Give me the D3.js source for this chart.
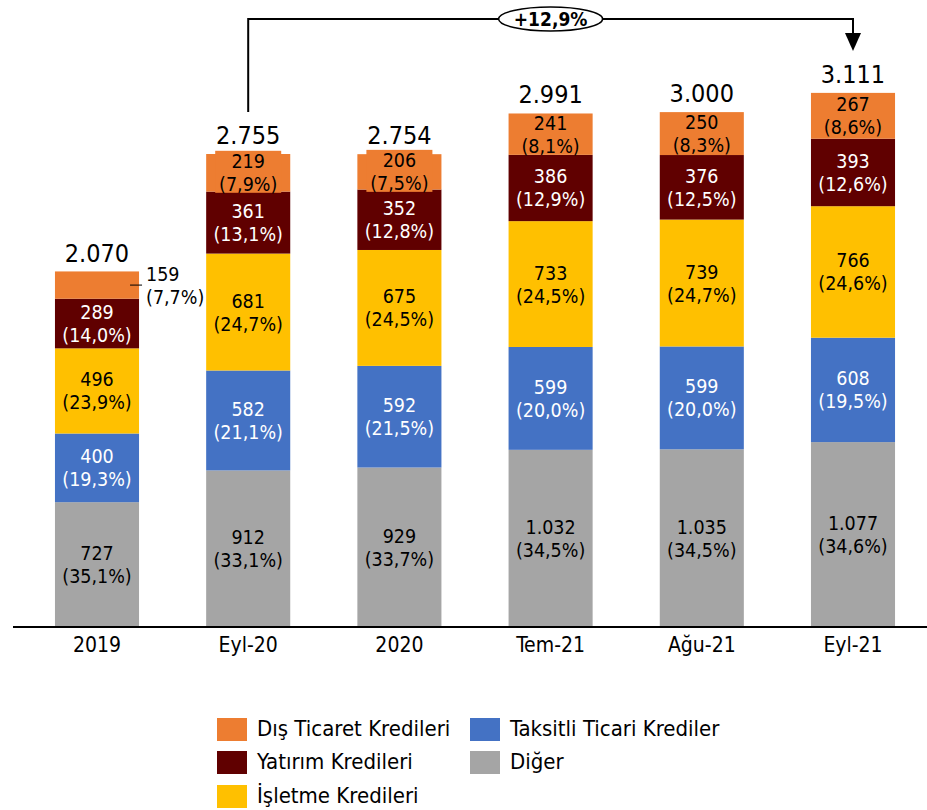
<!DOCTYPE html>
<html>
<head>
<meta charset="utf-8">
<script src="https://cdn.jsdelivr.net/npm/d3@7/dist/d3.min.js"></script>
<style>
  body { margin: 0; background: #fff; }
  text { font-family: "DejaVu Sans Condensed", "DejaVu Sans", sans-serif; }
</style>
</head>
<body>
<script>
// Data
var categories = ["2019", "Eyl-20", "2020", "Tem-21", "Ağu-21", "Eyl-21"];
var seriesNames = ["Diğer", "Taksitli Ticari Krediler", "İşletme Kredileri", "Yatırım Kredileri", "Dış Ticaret Kredileri"];
var diger     = [727, 912, 929, 1032, 1035, 1077];
var taksitli  = [400, 582, 592, 599, 599, 608];
var isletme   = [496, 681, 675, 733, 739, 766];
var yatirim   = [289, 361, 352, 386, 376, 393];
var disTicaret = [159, 219, 206, 241, 250, 267];
var totals    = [2070, 2755, 2754, 2991, 3000, 3111];

var pctDiger    = ["35,1", "33,1", "33,7", "34,5", "34,5", "34,6"];
var pctTaksitli = ["19,3", "21,1", "21,5", "20,0", "20,0", "19,5"];
var pctIsletme  = ["23,9", "24,7", "24,5", "24,5", "24,7", "24,6"];
var pctYatirim  = ["14,0", "13,1", "12,8", "12,9", "12,5", "12,6"];
var pctDis      = ["7,7", "7,9", "7,5", "8,1", "8,3", "8,6"];

var growthLabel = "+12,9%";

//Size
var w = 927, h = 810;
var baseY = 627;

var colors = ["#a5a5a5", "#4472c4", "#ffc000", "#600000", "#ed7d31"];
var textColors = ["#000", "#fff", "#000", "#fff", "#000"];

var values = [diger, taksitli, isletme, yatirim, disTicaret];
var pcts = [pctDiger, pctTaksitli, pctIsletme, pctYatirim, pctDis];

var tr = d3.formatLocale({decimal: ",", thousands: ".", grouping: [3], currency: ["", ""]});
var fmt = tr.format(",d");

var svg = d3.select("body").append("svg")
  .attr("width", w)
  .attr("height", h);

//Scales
var x = d3.scaleBand()
  .domain(categories)
  .range([21.4, 928.6])
  .paddingInner(0.444)
  .paddingOuter(0.222);

var y = d3.scaleLinear()
  .domain([0, 3652])
  .range([baseY, 0]);

//Stack rows
var rows = categories.map(function(c, i) {
  var r = {cat: c};
  seriesNames.forEach(function(s, k) { r[s] = values[k][i]; });
  return r;
});
var stacked = d3.stack().keys(seriesNames)(rows);

var bw = x.bandwidth();

var layers = svg.selectAll("g.layer")
  .data(stacked)
  .enter().append("g")
  .attr("class", "layer")
  .attr("fill", function(d, k) { return colors[k]; });

layers.selectAll("rect")
  .data(function(d) { return d; })
  .enter().append("rect")
  .attr("x", function(d) { return x(d.data.cat); })
  .attr("y", function(d) { return y(d[1]); })
  .attr("width", bw)
  .attr("height", function(d) { return y(d[0]) - y(d[1]); });

//Segment labels
stacked.forEach(function(layer, k) {
  layer.forEach(function(d, i) {
    var cx = x(d.data.cat) + bw / 2;
    var cy = (y(d[0]) + y(d[1])) / 2;
    var segH = y(d[0]) - y(d[1]);
    var v = values[k][i];
    var outside = segH < 30;
    var g = svg.append("g");
    if (outside) {
      // label next to the bar with a short leader line
      var lx = x(d.data.cat) + bw;
      g.append("line")
        .attr("x1", lx - 9).attr("x2", lx + 3)
        .attr("y1", cy).attr("y2", cy)
        .attr("stroke", "#000").attr("stroke-width", 1);
      g.append("text").attr("x", lx + 7).attr("y", cy - 4.5)
        .style("font-size", "19.5px").attr("fill", "#000").text(fmt(v));
      g.append("text").attr("x", lx + 7).attr("y", cy + 18.5)
        .style("font-size", "19.5px").attr("fill", "#000").text("(" + pcts[k][i] + "%)");
      return;
    }
    if (segH < 39) {
      // label box a bit taller than the thin segment
      g.append("rect")
        .attr("x", cx - 33).attr("width", 66)
        .attr("y", cy - 22).attr("height", 42)
        .attr("fill", colors[k]);
    }
    g.append("text").attr("x", cx).attr("y", cy - 4.5)
      .attr("text-anchor", "middle")
      .style("font-size", "19.5px").attr("fill", textColors[k]).text(fmt(v));
    g.append("text").attr("x", cx).attr("y", cy + 18.5)
      .attr("text-anchor", "middle")
      .style("font-size", "19.5px").attr("fill", textColors[k]).text("(" + pcts[k][i] + "%)");
  });
});

//Totals
svg.selectAll("text.total")
  .data(categories)
  .enter().append("text")
  .attr("class", "total")
  .attr("x", function(d) { return x(d) + bw / 2; })
  .attr("y", function(d, i) { return y(totals[i]) - 10; })
  .attr("text-anchor", "middle")
  .style("font-size", "25px")
  .text(function(d, i) { return fmt(totals[i]); });

//Axis
svg.append("line")
  .attr("x1", 13).attr("x2", w)
  .attr("y1", baseY).attr("y2", baseY)
  .attr("stroke", "#000").attr("stroke-width", 2);

svg.selectAll("text.cat")
  .data(categories)
  .enter().append("text")
  .attr("class", "cat")
  .attr("x", function(d) { return x(d) + bw / 2; })
  .attr("y", 652)
  .attr("text-anchor", "middle")
  .style("font-size", "21px")
  .text(function(d) { return d; });

//Growth arrow
var x1 = x("Eyl-20") + bw / 2, x2 = x("Eyl-21") + bw / 2;
var y1 = y(totals[1]) - 42, y2 = y(totals[5]) - 42;
var topY = 19;
svg.append("path")
  .attr("d", "M" + x1 + "," + y1 + "V" + topY + "H" + x2 + "V" + (y2 - 17))
  .attr("fill", "none").attr("stroke", "#000").attr("stroke-width", 2);
svg.append("path")
  .attr("d", "M" + (x2 - 8) + "," + (y2 - 18) + "L" + (x2 + 8) + "," + (y2 - 18) + "L" + x2 + "," + y2 + "Z")
  .attr("fill", "#000");

var midX = (x1 + x2) / 2;
svg.append("ellipse")
  .attr("cx", midX).attr("cy", topY)
  .attr("rx", 52).attr("ry", 12)
  .attr("fill", "#fff").attr("stroke", "#000").attr("stroke-width", 1.5);
svg.append("text")
  .attr("x", midX).attr("y", topY + 7)
  .attr("text-anchor", "middle")
  .style("font-size", "19px").style("font-weight", "bold")
  .text(growthLabel);

//Legend
var legendOrder = [4, 1, 3, 0, 2];
var legPos = [[217, 718], [470, 718], [217, 751], [470, 751], [217, 785]];
var legend = svg.selectAll("g.legend")
  .data(legendOrder)
  .enter().append("g")
  .attr("class", "legend")
  .attr("transform", function(d, i) { return "translate(" + legPos[i][0] + "," + legPos[i][1] + ")"; });

legend.append("rect")
  .attr("width", 30).attr("height", 23)
  .attr("fill", function(d) { return colors[d]; });

legend.append("text")
  .attr("x", 40).attr("y", 18)
  .style("font-size", "22px")
  .text(function(d) { return seriesNames[d]; });
</script>
</body>
</html>
